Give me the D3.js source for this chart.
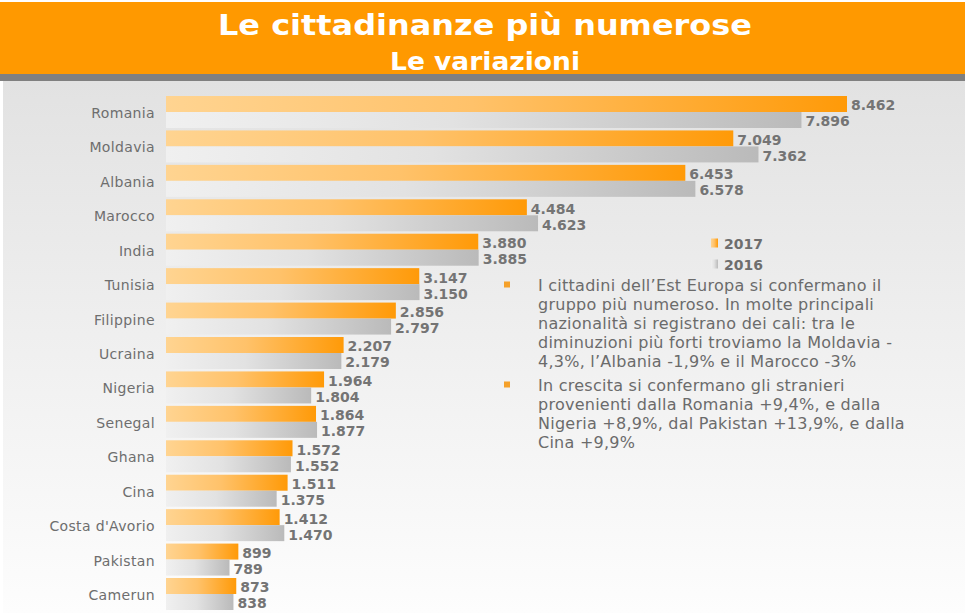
<!DOCTYPE html>
<html>
<head>
<meta charset="utf-8">
<script src="https://cdn.jsdelivr.net/npm/d3@7"></script>
<style>
  html, body { margin: 0; padding: 0; background: #fff; }
  svg { display: block; }
</style>
</head>
<body>
<svg id="chart" width="965" height="613"></svg>
<script>
// ---- data ----
const categories = ["Romania","Moldavia","Albania","Marocco","India","Tunisia","Filippine","Ucraina","Nigeria","Senegal","Ghana","Cina","Costa d'Avorio","Pakistan","Camerun"];
const values2017 = [8462,7049,6453,4484,3880,3147,2856,2207,1964,1864,1572,1511,1412,899,873];
const values2016 = [7896,7362,6578,4623,3885,3150,2797,2179,1804,1877,1552,1375,1470,789,838];
const seriesNames = ["2017","2016"];
const titleText = "Le cittadinanze più numerose";
const subtitleText = "Le variazioni";
const bullet1 = ["I cittadini dell’Est Europa si confermano il","gruppo più numeroso. In molte principali","nazionalità si registrano dei cali: tra le","diminuzioni più forti troviamo la Moldavia -","4,3%, l’Albania -1,9% e il Marocco -3%"];
const bullet2 = ["In crescita si confermano gli stranieri","provenienti dalla Romania +9,4%, e dalla","Nigeria +8,9%, dal Pakistan +13,9%, e dalla","Cina +9,9%"];

const svg = d3.select("#chart");
const W = 965, H = 613;
const defs = svg.append("defs");

function lin(id, stops, vertical) {
  const g = defs.append("linearGradient").attr("id", id)
    .attr("x1", 0).attr("y1", 0).attr("x2", vertical ? 0 : 1).attr("y2", vertical ? 1 : 0);
  stops.forEach(s => g.append("stop").attr("offset", s[0]).attr("stop-color", s[1]));
}
lin("bg", [[0,"#e2e2e2"],[0.55,"#f1f1f1"],[1,"#fdfdfd"]], true);
lin("gOrange", [[0,"#ffd491"],[0.45,"#ffc26a"],[1,"#ff9a08"]], false);
lin("gGray", [[0,"#f0f0f0"],[0.45,"#e2e2e2"],[1,"#bababa"]], false);

// background
svg.append("rect").attr("width", W).attr("height", H).attr("fill", "#ffffff");
svg.append("rect").attr("x", 3).attr("y", 81).attr("width", W - 3).attr("height", H - 81).attr("fill", "url(#bg)");
// header
svg.append("rect").attr("x", 0).attr("y", 2).attr("width", W).attr("height", 72).attr("fill", "#ff9900");
svg.append("rect").attr("x", 0).attr("y", 74).attr("width", W).attr("height", 7).attr("fill", "#808080");

svg.append("text").attr("x", 485).attr("y", 35).attr("text-anchor", "middle")
  .attr("font-family", "DejaVu Sans").attr("font-weight", "bold").attr("font-size", 29)
  .attr("fill", "#ffffff").attr("textLength", 534).attr("lengthAdjust", "spacingAndGlyphs")
  .text(titleText);
svg.append("text").attr("x", 485).attr("y", 70).attr("text-anchor", "middle")
  .attr("font-family", "DejaVu Sans").attr("font-weight", "bold").attr("font-size", 24)
  .attr("fill", "#ffffff").attr("textLength", 190).attr("lengthAdjust", "spacingAndGlyphs")
  .text(subtitleText);

// scales
const x = d3.scaleLinear().domain([0, 8462]).range([166, 847]);
const y = d3.scaleBand().domain(categories).range([96, 610]).paddingInner(0.0706).paddingOuter(0);
const ySub = d3.scaleBand().domain(seriesNames).range([0, y.bandwidth()]);
const fmt = d3.formatLocale({decimal: ",", thousands: ".", grouping: [3], currency: ["", "€"]}).format(",d");

const rows = categories.map((c, i) => ({cat: c, vals: [
  {s: "2017", v: values2017[i]}, {s: "2016", v: values2016[i]}]}));

const g = svg.append("g");
const row = g.selectAll("g.row").data(rows).join("g").attr("class", "row")
  .attr("transform", d => `translate(0,${y(d.cat)})`);

row.selectAll("rect").data(d => d.vals).join("rect")
  .attr("x", x(0)).attr("y", d => ySub(d.s))
  .attr("width", d => x(d.v) - x(0)).attr("height", ySub.bandwidth())
  .attr("fill", d => d.s === "2017" ? "url(#gOrange)" : "url(#gGray)");

row.selectAll("text.val").data(d => d.vals).join("text").attr("class", "val")
  .attr("x", d => x(d.v) + 4).attr("y", d => ySub(d.s) + ySub.bandwidth() / 2 + 1.5)
  .attr("dominant-baseline", "central")
  .attr("font-family", "DejaVu Sans").attr("font-weight", "bold").attr("font-size", 14)
  .attr("fill", "#747474").text(d => fmt(d.v));

row.append("text").attr("x", 155).attr("y", y.bandwidth() / 2 + 1)
  .attr("text-anchor", "end").attr("dominant-baseline", "central")
  .attr("font-family", "DejaVu Sans").attr("font-size", 14)
  .attr("letter-spacing", 0.35)
  .attr("fill", "#6e6e6e").text(d => d.cat);

// legend
const legY = [243, 264];
seriesNames.forEach((s, i) => {
  svg.append("rect").attr("x", 711).attr("y", legY[i] - 4.5).attr("width", 7).attr("height", 9)
    .attr("fill", i === 0 ? "url(#gOrange)" : "url(#gGray)");
  svg.append("text").attr("x", 724).attr("y", legY[i] + 1).attr("dominant-baseline", "central")
    .attr("font-family", "DejaVu Sans").attr("font-weight", "bold").attr("font-size", 14)
    .attr("fill", "#6e6e6e").text(s);
});

// bullets
function bullet(lines, y0, step) {
  svg.append("rect").attr("x", 504).attr("y", y0 - 3).attr("width", 6).attr("height", 6).attr("fill", "#f5a12a");
  lines.forEach((t, i) => {
    svg.append("text").attr("x", 538).attr("y", y0 + i * step + 1).attr("dominant-baseline", "central")
      .attr("font-family", "DejaVu Sans").attr("font-size", 16)
      .attr("letter-spacing", 0.25)
      .attr("fill", "#6b6b6b").text(t);
  });
}
bullet(bullet1, 284.5, 19.1);
bullet(bullet2, 384.5, 19.1);
</script>
</body>
</html>
